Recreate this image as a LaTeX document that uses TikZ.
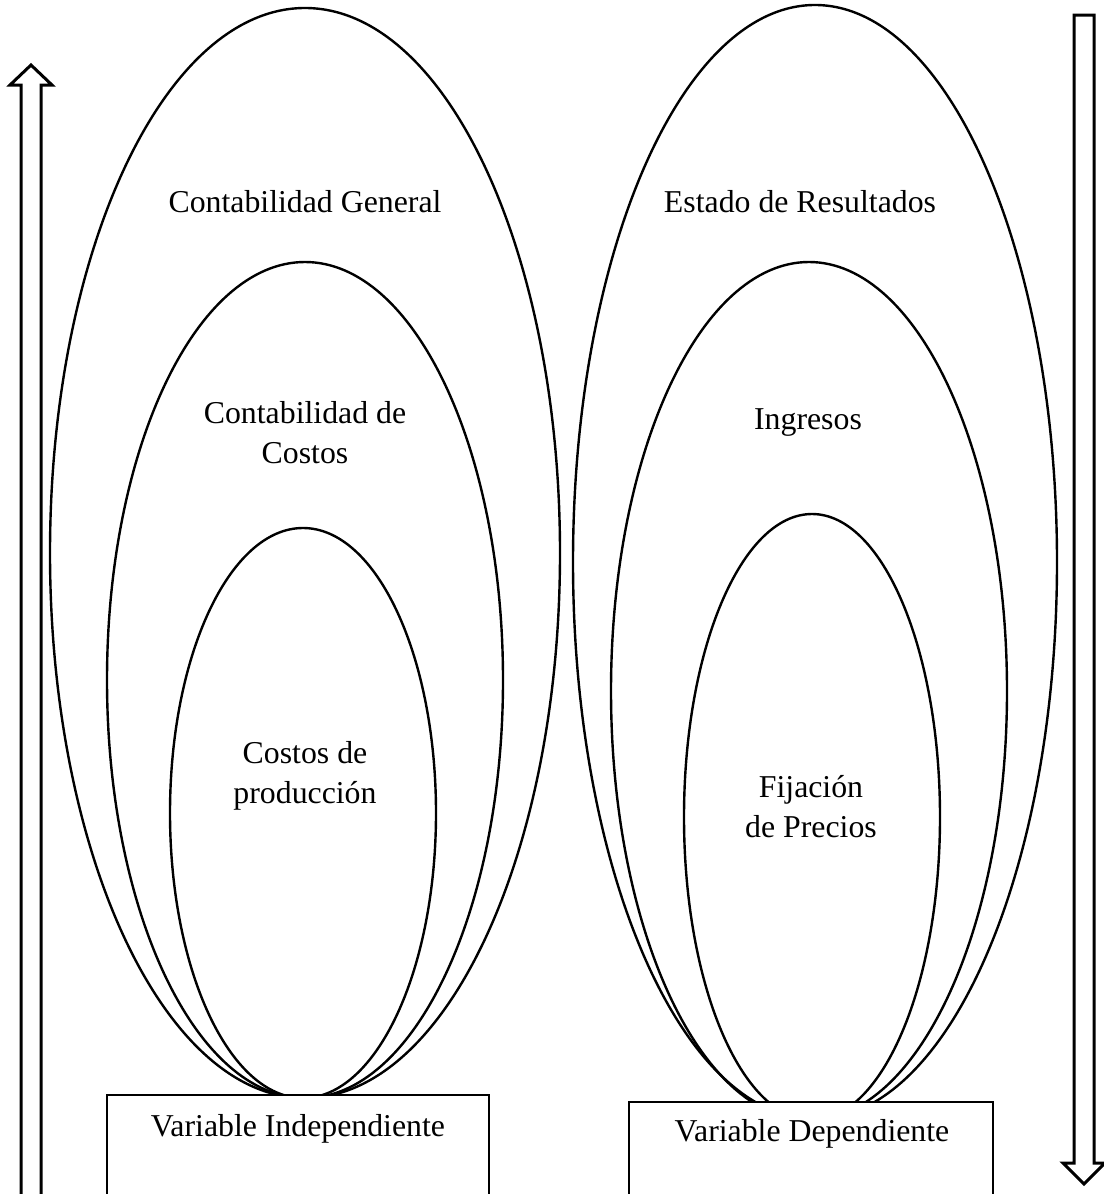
\documentclass[tikz,border=0pt]{standalone}
\usepackage{fontspec}
\setmainfont{Liberation Serif}
\usepackage{tikz}

\begin{document}
\begin{tikzpicture}[x=0.5pt, y=-0.5pt,
    font=\fontsize{15.9}{20}\selectfont,
    oval/.style={line width=1.2pt},
    bigarrow/.style={line width=1.5pt, line join=miter},
    varbox/.style={line width=0.6pt, fill=white},
    txt/.style={align=center, inner sep=0pt}]

      \useasboundingbox (0,0) rectangle (1103,1194);

      % 左の矢印（上向き）
      \draw[bigarrow] (21,1210) -- (21,85) -- (10,85) -- (31,65) -- (52,85) -- (41,85) -- (41,1210);

      % 右の矢印（下向き）
      \draw[bigarrow] (1074,15) -- (1094,15) -- (1094,1163) -- (1105,1163) -- (1084,1184)
        -- (1063,1163) -- (1074,1163) -- cycle;

      % 左の楕円
      \draw[oval] (305,553) ellipse [x radius=255, y radius=545];
      \draw[oval] (305,680) ellipse [x radius=198, y radius=418];
      \draw[oval] (303,813) ellipse [x radius=133, y radius=285];

      % 右の楕円
      \draw[oval] (815,562) ellipse [x radius=242, y radius=557];
      \draw[oval] (809,691) ellipse [x radius=198, y radius=429];
      \draw[oval] (812,817) ellipse [x radius=128, y radius=303];

      % 左のラベル
      \node[txt] (general) at (305,202) {Contabilidad General};
      \node[txt] (costos)  at (305,433) {Contabilidad de\\Costos};
      \node[txt] (produc)  at (305,776) {Costos de\\producción};

      % 右のラベル
      \node[txt] (estado)   at (800,202) {Estado de Resultados};
      \node[txt] (ingresos) at (808,423) {Ingresos};
      \node[txt] (precios)  at (811,807) {Fijación\\de Precios};

      % 下の枠
      \draw[varbox] (107,1095) rectangle (489,1210);
      \node[txt] (indep) at (298,1129) {Variable Independiente};
      \draw[varbox] (629,1102) rectangle (993,1210);
      \node[txt] (dep) at (812,1134) {Variable Dependiente};

    \end{tikzpicture}
\end{document}
